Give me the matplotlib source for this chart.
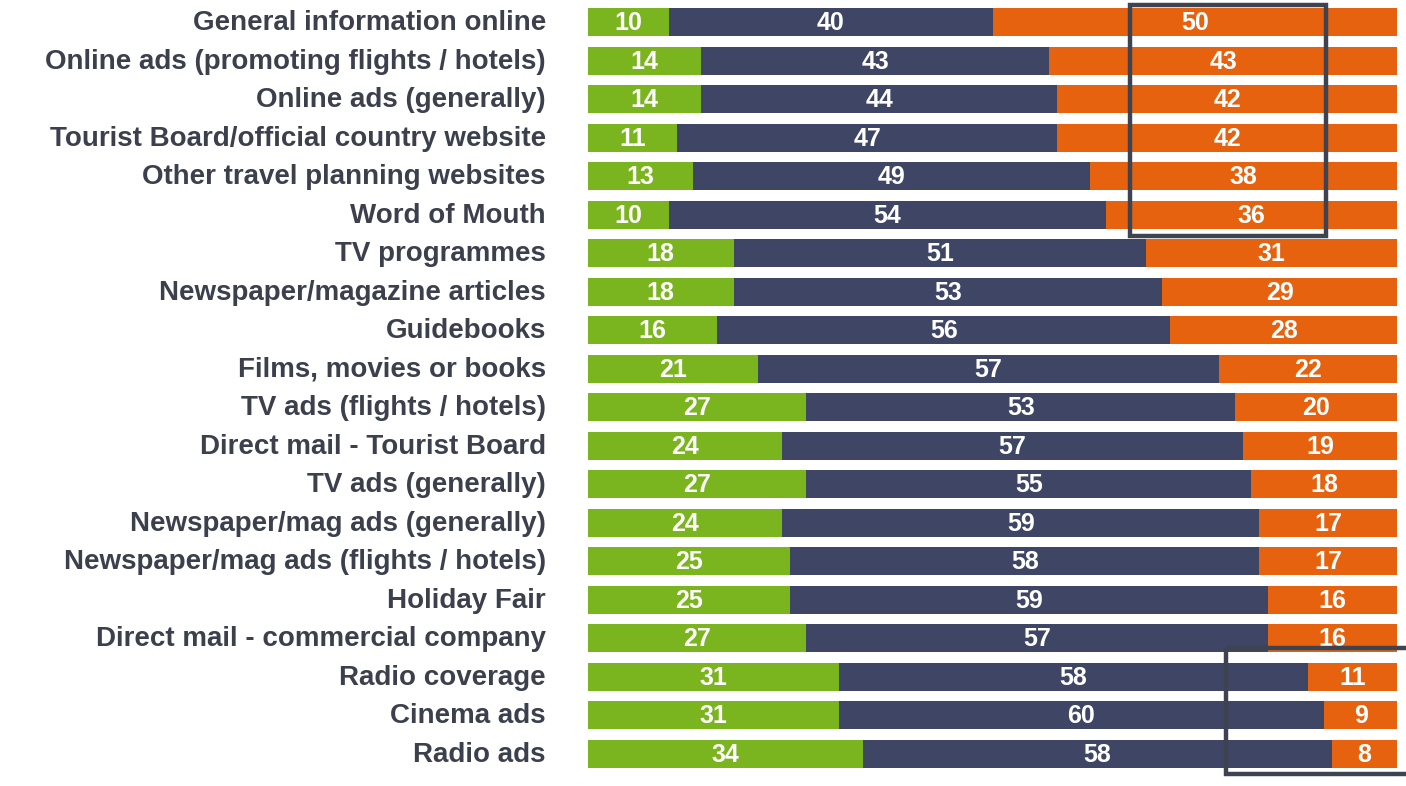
import matplotlib
matplotlib.use("Agg")
import matplotlib.pyplot as plt
from matplotlib.patches import Rectangle
import numpy as np

categories = [
    "General information online",
    "Online ads (promoting flights / hotels)",
    "Online ads (generally)",
    "Tourist Board/official country website",
    "Other travel planning websites",
    "Word of Mouth",
    "TV programmes",
    "Newspaper/magazine articles",
    "Guidebooks",
    "Films, movies or books",
    "TV ads (flights / hotels)",
    "Direct mail - Tourist Board",
    "TV ads (generally)",
    "Newspaper/mag ads (generally)",
    "Newspaper/mag ads (flights / hotels)",
    "Holiday Fair",
    "Direct mail - commercial company",
    "Radio coverage",
    "Cinema ads",
    "Radio ads",
]
green_vals = [10, 14, 14, 11, 13, 10, 18, 18, 16, 21, 27, 24, 27, 24, 25, 25, 27, 31, 31, 34]
navy_vals = [40, 43, 44, 47, 49, 54, 51, 53, 56, 57, 53, 57, 55, 59, 58, 59, 57, 58, 60, 58]
orange_vals = [50, 43, 42, 42, 38, 36, 31, 29, 28, 22, 20, 19, 18, 17, 17, 16, 16, 11, 9, 8]

plt.rcParams['font.family'] = ['Liberation Sans', 'DejaVu Sans']

W, H = 1406, 786
fig = plt.figure(figsize=(W / 100, H / 100), dpi=100)
x0, x1 = 588, 1397
top, bot = 3, 773
ax = fig.add_axes([x0 / W, 1 - bot / H, (x1 - x0) / W, (bot - top) / H])

n = len(categories)
y = np.arange(n)
g = np.array(green_vals)
nv = np.array(navy_vals)
o = np.array(orange_vals)

colors = ["#7ab41e", "#3e4565", "#e6620e"]
bh = 0.73
ax.barh(y, g, height=bh, color=colors[0], edgecolor="none")
ax.barh(y, nv, left=g, height=bh, color=colors[1], edgecolor="none")
ax.barh(y, o, left=g + nv, height=bh, color=colors[2], edgecolor="none")

for i in range(n):
    for left, val in ((0, g[i]), (g[i], nv[i]), (g[i] + nv[i], o[i])):
        ax.text(left + val / 2, y[i] + 0.02, str(val), ha="center", va="center",
                color="white", fontsize=18, fontweight="bold")
    ax.text(-5.2, y[i] + 0.03, categories[i], ha="right", va="center",
            color="#3b404c", fontsize=20, fontweight="bold", clip_on=False)

ax.set_xlim(0, 100)
ax.set_ylim(n - 0.5, -0.5)
ax.axis("off")

# highlight boxes
ax.add_patch(Rectangle((67.0, -0.45), 24.2, 6.0, fill=False, edgecolor="#3d4350",
                       linewidth=3.2, clip_on=False, zorder=5))
ax.add_patch(Rectangle((78.9, 16.25), 25, 3.28, fill=False, edgecolor="#3d4350",
                       linewidth=3.2, clip_on=False, zorder=5))

fig.savefig("out.png", dpi=100, facecolor="white")
